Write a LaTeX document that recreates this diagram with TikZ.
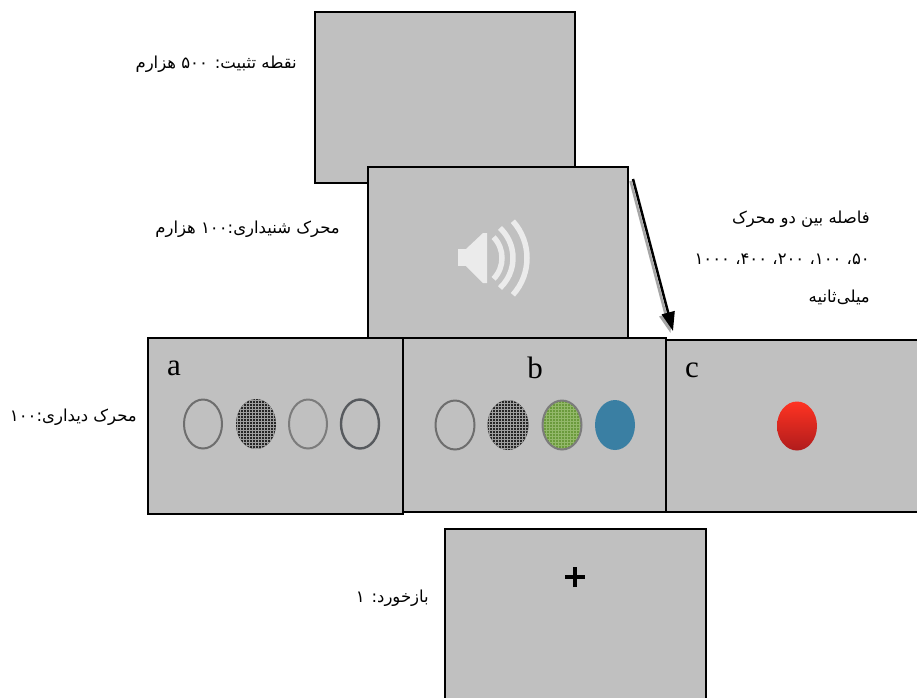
\documentclass[tikz,border=0pt]{standalone}
\usepackage{fontspec}
\setmainfont{Liberation Serif}
\newfontfamily\fa[Script=Arabic]{DejaVu Sans}
\TeXXeTstate=1
\usetikzlibrary{arrows.meta,patterns}
\definecolor{boxgray}{HTML}{C0C0C0}
\definecolor{ringA}{HTML}{6E6E6E}
\definecolor{ringB}{HTML}{7C7C7C}
\definecolor{ringC}{HTML}{575A5E}
\definecolor{darkfill}{HTML}{262626}
\definecolor{greenfill}{HTML}{6B9A3C}
\definecolor{greengrid}{HTML}{93B86A}
\definecolor{bluefill}{HTML}{3A7FA3}
\definecolor{speaker}{HTML}{EBEBEB}
\definecolor{redtop}{HTML}{FF3322}
\definecolor{redbot}{HTML}{B01C1C}
\tikzset{
  screen/.style={draw=black, line width=2.7pt, fill=boxgray, inner sep=0pt, outer sep=0pt, anchor=north west},
  fatext/.style={font=\fa\fontsize{16.5}{19}\selectfont, anchor=east, inner sep=0pt},
  letter/.style={font=\fontsize{31}{31}\selectfont, inner sep=0pt},
  ring/.style={draw=#1, line width=2pt},
  spk/.style={draw=speaker, line width=5.5pt},
}
\begin{document}
\begin{tikzpicture}[x=1pt,y=-1pt]
\useasboundingbox[fill=white] (0,0) rectangle (917,697);
% screens
\node[screen, minimum width=260pt, minimum height=171pt] (fix) at (315,12) {};
\node[screen, minimum width=260pt, minimum height=171pt] (aud) at (368,167) {};
\node[screen, minimum width=255pt, minimum height=176pt] (sa) at (148,338) {};
\node[screen, minimum width=263pt, minimum height=174pt] (sb) at (403,338) {};
\node[screen, minimum width=270pt, minimum height=172pt] (sc) at (666,340) {};
\node[screen, minimum width=261pt, minimum height=190pt] (fb) at (445,529) {};
% labels
\node[fatext] (t1) at (297,64) {\beginR نقطه تثبیت: ۵۰۰ هزارم\endR};
\node[fatext] (t2) at (340,229) {\beginR محرک شنیداری:۱۰۰ هزارم\endR};
\node[fatext] (t3) at (870,219) {\beginR فاصله بین دو محرک\endR};
\node[fatext] (t4) at (870,259) {\beginR ۵۰، ۱۰۰، ۲۰۰، ۴۰۰، ۱۰۰۰\endR};
\node[fatext] (t5) at (870,297) {\beginR میلی‌ثانیه\endR};
\node[fatext] (t6) at (137,417) {\beginR محرک دیداری:۱۰۰\endR};
\node[fatext] (t7) at (429,598) {\beginR بازخورد: ۱\endR};
% letters
\node[letter] (la) at (174,368) {a};
\node[letter] (lb) at (535,368) {b};
\node[letter] (lc) at (692,370) {c};
% speaker icon
\fill[speaker] (458,249) rectangle (466,266);
\fill[speaker] (466,249) -- (483,233) -- (487,233) -- (487,283) -- (483,283) -- (466,266) -- cycle;
\draw[spk] (472,258) ++(-44:30pt) arc[start angle=-44, end angle=44, radius=30pt];
\draw[spk] (472,258) ++(-47:41pt) arc[start angle=-47, end angle=47, radius=41pt];
\draw[spk] (472,258) ++(-42:55pt) arc[start angle=-42, end angle=42, radius=55pt];
% arrow
\coordinate (arrS) at (633,179);
\coordinate (arrE) at (673,331);
\draw[gray!70, line width=2.5pt, -{Triangle[length=19pt,width=13pt]}] ([xshift=-2.5pt,yshift=-2pt]arrS) -- ([xshift=-2.5pt,yshift=-2pt]arrE);
\draw[black, line width=2.5pt, -{Triangle[length=19pt,width=13pt]}] (arrS) -- (arrE);
% circles in a
\draw[ring=ringA] (203,424) ellipse [x radius=19pt, y radius=24.5pt];
\fill[darkfill] (256,424) ellipse [x radius=20pt, y radius=25pt];
\fill[pattern=grid, pattern color=gray!75] (256,424) ellipse [x radius=20pt, y radius=25pt];
\draw[ring=ringB] (308,424) ellipse [x radius=19pt, y radius=24.5pt];
\draw[ring=ringC, line width=2.4pt] (360,424) ellipse [x radius=19pt, y radius=24.5pt];
% circles in b
\draw[ring=ringA] (455,425) ellipse [x radius=19.5pt, y radius=24.5pt];
\fill[darkfill] (508,425) ellipse [x radius=20.5pt, y radius=25pt];
\fill[pattern=grid, pattern color=gray!75] (508,425) ellipse [x radius=20.5pt, y radius=25pt];
\fill[greenfill] (562,425) ellipse [x radius=19.5pt, y radius=24.5pt];
\fill[pattern=grid, pattern color=greengrid] (562,425) ellipse [x radius=19.5pt, y radius=24.5pt];
\draw[ring=ringB] (562,425) ellipse [x radius=19.5pt, y radius=24.5pt];
\fill[bluefill] (615,425) ellipse [x radius=20pt, y radius=25pt];
% red stimulus
\shade[top color=redtop, bottom color=redbot] (797,426) ellipse [x radius=20pt, y radius=24.5pt];
% fixation cross
\coordinate (cr) at (575,577);
\draw[black, line width=4pt] ([xshift=-10pt]cr) -- ([xshift=10pt]cr);
\draw[black, line width=4pt] ([yshift=-10pt]cr) -- ([yshift=10pt]cr);
\end{tikzpicture}
\end{document}
